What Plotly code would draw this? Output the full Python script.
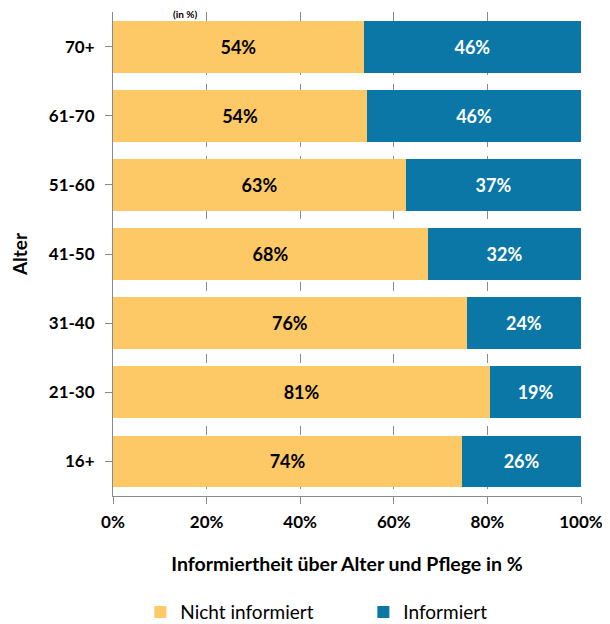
import plotly.graph_objects as go

categories = ["16+", "21-30", "31-40", "41-50", "51-60", "61-70", "70+"]
nicht_informiert = [74.6, 80.6, 75.6, 67.3, 62.6, 54.3, 53.6]
informiert = [25.4, 19.4, 24.4, 32.7, 37.4, 45.7, 46.4]
nicht_labels = ["74%", "81%", "76%", "68%", "63%", "54%", "54%"]
inf_labels = ["26%", "19%", "24%", "32%", "37%", "46%", "46%"]
x_ticks = [0, 20, 40, 60, 80, 100]
x_tick_labels = ["0%", "20%", "40%", "60%", "80%", "100%"]

FONT = "Lato"
fig = go.Figure()
fig.add_trace(go.Bar(
    y=categories, x=nicht_informiert, orientation="h", name="Nicht informiert",
    marker=dict(color="#FDC966", line=dict(width=0)),
    text=nicht_labels, textposition="inside", insidetextanchor="middle",
    textfont=dict(family=FONT, size=18, color="black", weight="bold"),
    width=0.75,
))
fig.add_trace(go.Bar(
    y=categories, x=informiert, orientation="h", name="Informiert",
    marker=dict(color="#0A77A7", line=dict(width=0)),
    text=inf_labels, textposition="inside", insidetextanchor="middle",
    textfont=dict(family=FONT, size=18, color="white", weight="bold"),
    width=0.75,
))
fig.update_layout(
    barmode="stack",
    width=610, height=624,
    margin=dict(l=105, r=37, t=4, b=136, autoexpand=False),
    plot_bgcolor="white", paper_bgcolor="white",
    font=dict(family=FONT, size=16, color="black"),
    uniformtext=dict(mode="show", minsize=10),
    xaxis=dict(
        range=[0, 100], tickvals=x_ticks, ticktext=x_tick_labels,
        showgrid=True, gridcolor="#8a8a8a", griddash="dash", gridwidth=1,
        showline=True, linecolor="#8a8a8a", linewidth=1,
        ticks="outside", ticklen=7, tickcolor="#8a8a8a",
        tickfont=dict(family=FONT, size=17, weight="bold"),
        ticklabelstandoff=4,
        title=dict(text="<b>Informiertheit über Alter und Pflege in %</b>",
                   font=dict(family=FONT, size=19.5), standoff=25),
        zeroline=False, automargin=False,
    ),
    yaxis=dict(
        showline=True, linecolor="#8a8a8a", linewidth=1,
        ticks="outside", ticklen=7, tickcolor="#8a8a8a",
        tickfont=dict(family=FONT, size=17, weight="bold"),
        title=dict(text="<b>Alter</b>", font=dict(family=FONT, size=19), standoff=22),
        ticklabelstandoff=7, automargin=False,
    ),
    showlegend=True,
    legend=dict(
        orientation="h", xref="container", yref="container",
        x=0.217, xanchor="left", y=0.032, yanchor="middle",
        font=dict(family=FONT, size=19), entrywidth=178, entrywidthmode="pixels",
        itemwidth=30, traceorder="normal",
    ),
)
fig.add_annotation(
    text="<b>(in %)</b>", xref="paper", yref="paper", x=0.126, y=1.0,
    yshift=5, showarrow=False, font=dict(family=FONT, size=10),
    yanchor="top", borderpad=0,
)
fig.write_html("out.html")
